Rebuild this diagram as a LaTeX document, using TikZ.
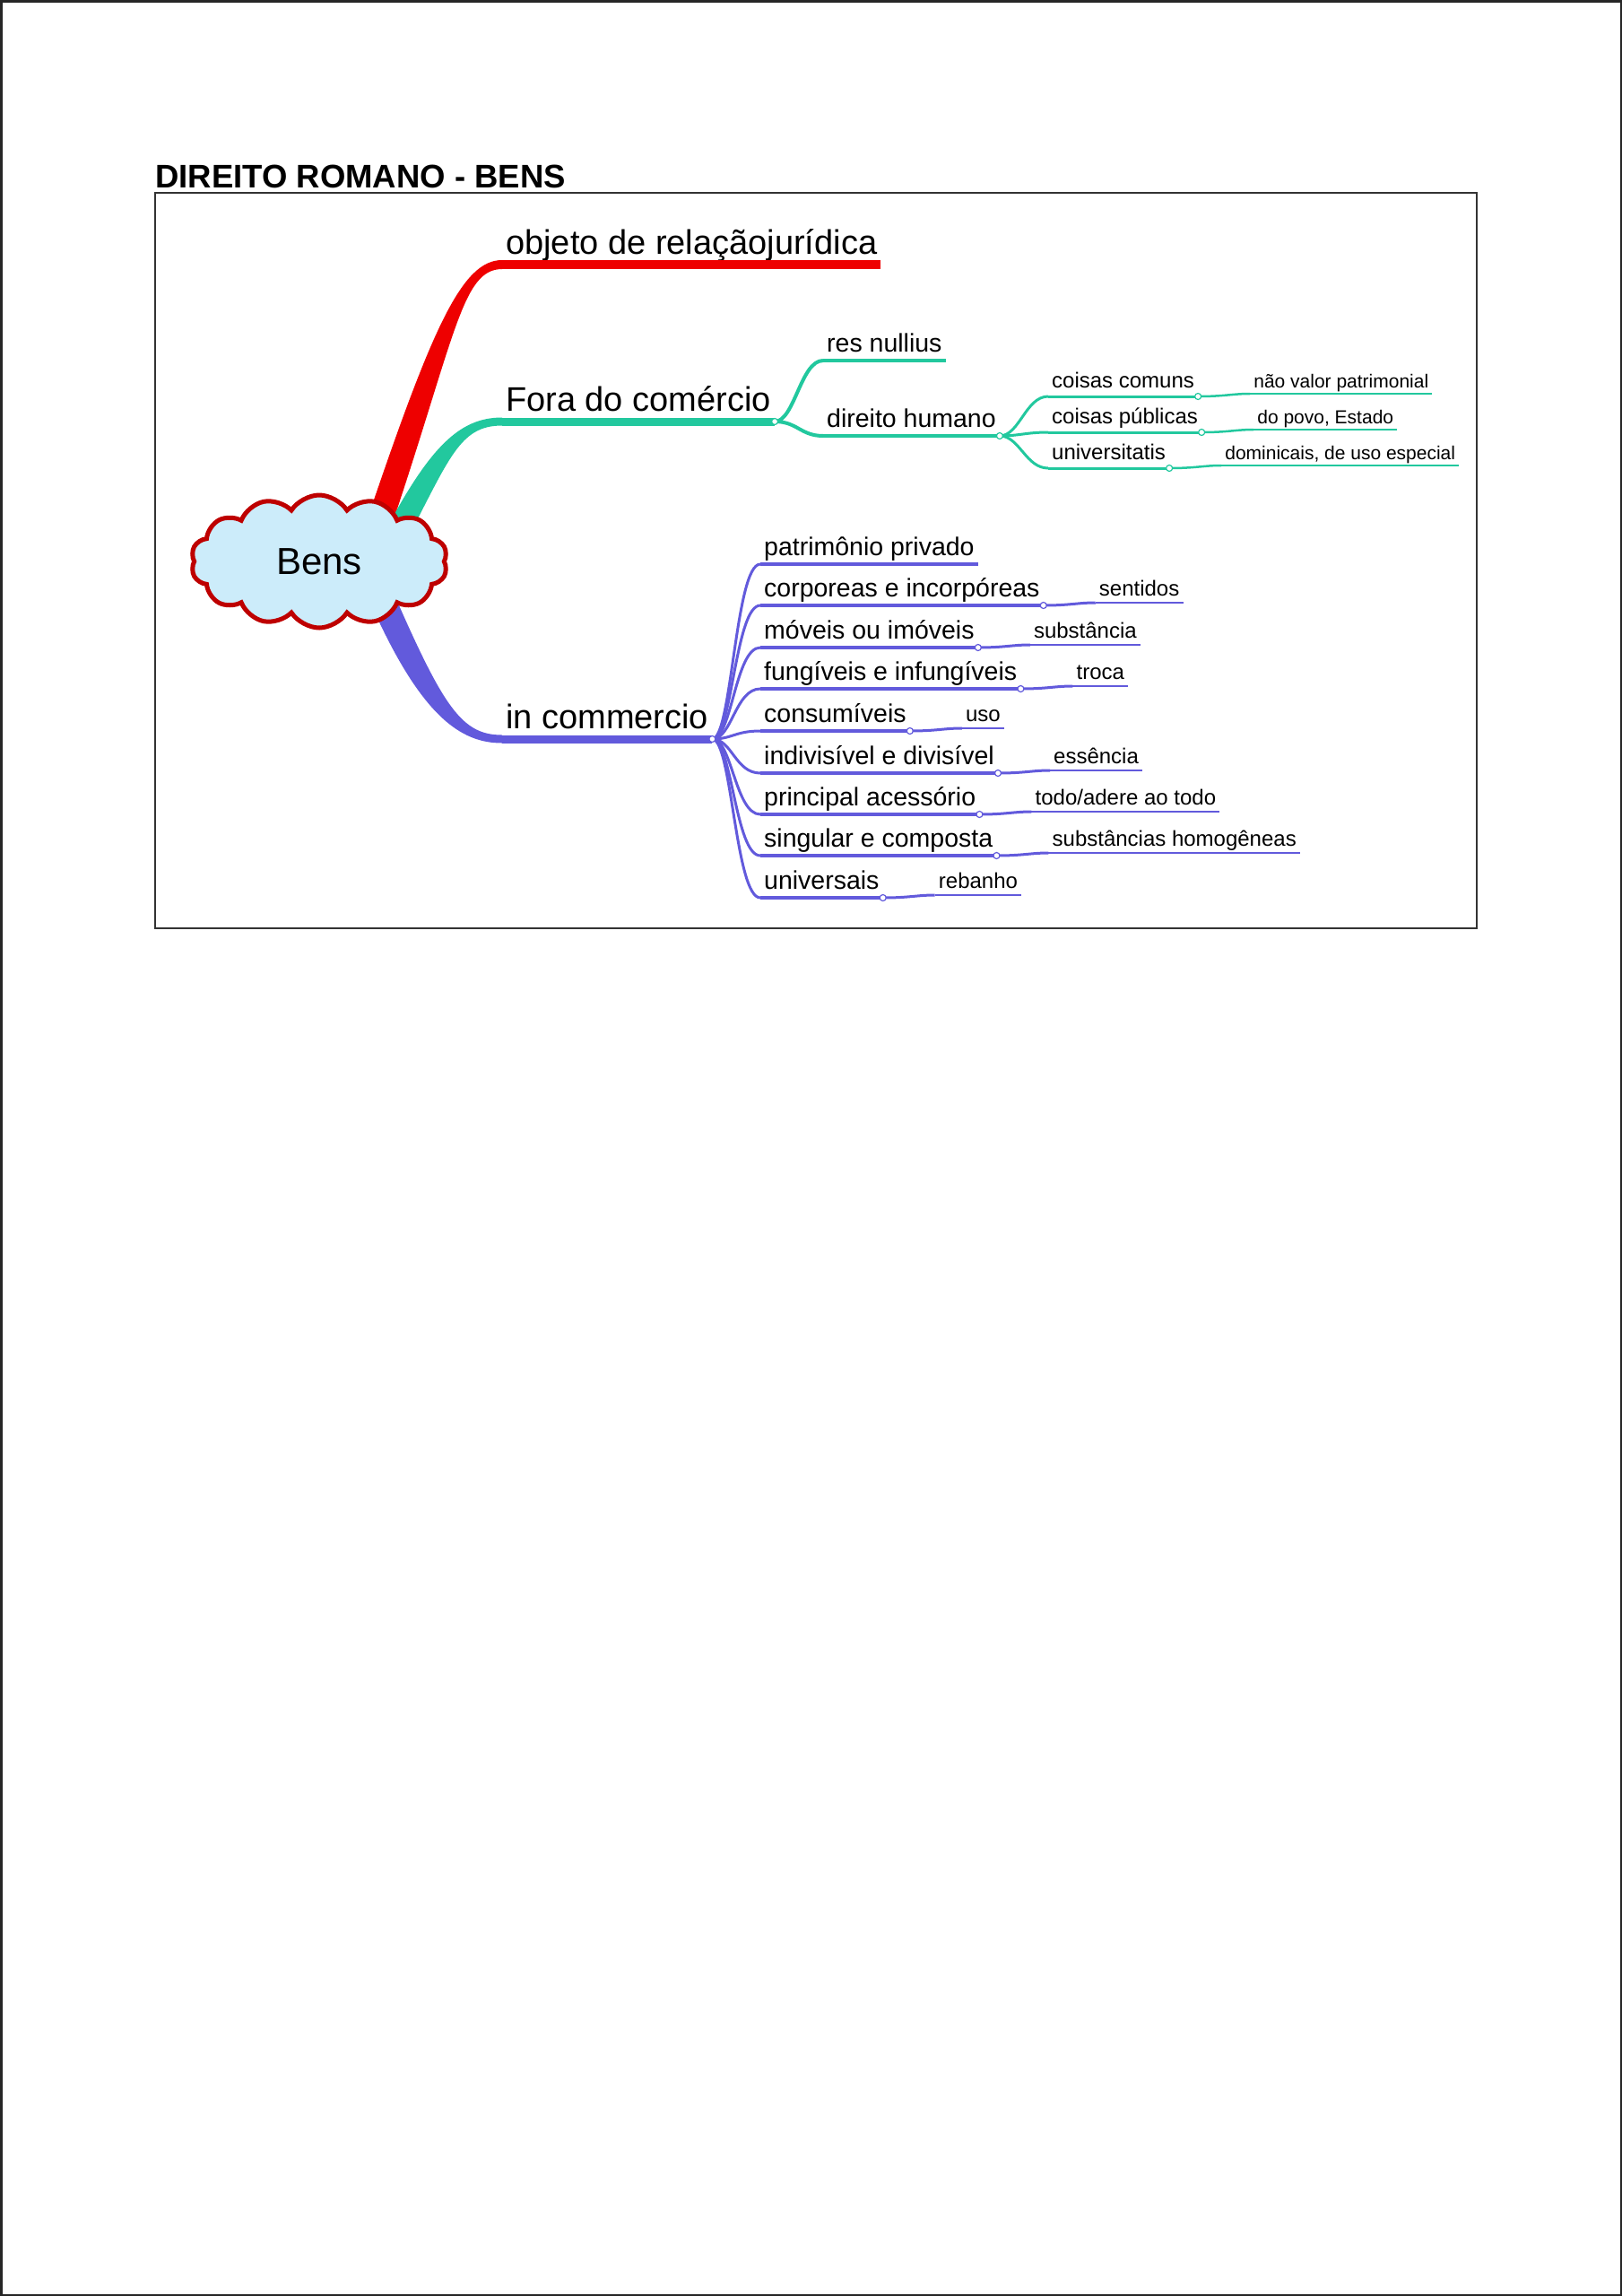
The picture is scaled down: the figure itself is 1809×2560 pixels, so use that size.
\documentclass[tikz,border=0pt]{standalone}
\usepackage{fontspec}
\setmainfont{Liberation Sans}
\usepackage{tikz}
\usetikzlibrary{calc,positioning,shapes.symbols}

\definecolor{mapred}{RGB}{238,0,0}
\definecolor{mapteal}{RGB}{34,200,158}
\definecolor{mapblue}{RGB}{98,90,220}
\definecolor{cloudred}{RGB}{190,0,0}
\definecolor{cloudfill}{RGB}{204,236,250}

% tapered main branch: colour, start, control 1, control 2, end, half width at start, half width at end
\newcommand\limb[7]{%
  \path ($(#2)!#6!90:(#3)$) coordinate (limbLa) ($(#2)!#6!-90:(#3)$) coordinate (limbRa)
        ($(#5)!#7!-90:(#4)$) coordinate (limbLb) ($(#5)!#7!90:(#4)$) coordinate (limbRb);
  \fill[#1] (limbLa) .. controls ($(#3)+(limbLa)-(#2)$) and ($(#4)+(limbLb)-(#5)$) .. (limbLb)
    -- (limbRb) .. controls ($(#4)+(limbRb)-(#5)$) and ($(#3)+(limbRa)-(#2)$) .. (limbRa) -- cycle;}

\begin{document}
\begin{tikzpicture}[
  x=1pt,y=-1pt,
  lvlone/.style={anchor=south west,inner xsep=4pt,inner ysep=11pt,text depth=0pt,
    font=\fontsize{38pt}{40pt}\selectfont},
  lvltwo/.style={anchor=south west,inner xsep=4pt,inner ysep=9.5pt,text depth=0pt,
    font=\fontsize{28.5pt}{30pt}\selectfont},
  lvlthree/.style={anchor=south west,inner xsep=4pt,inner ysep=9pt,text depth=0pt,
    font=\fontsize{24pt}{26pt}\selectfont},
  detail/.style={anchor=south west,inner xsep=4pt,inner ysep=7pt,text depth=0pt,
    font=\fontsize{24pt}{26pt}\selectfont},
  smalldetail/.style={anchor=south west,inner xsep=4pt,inner ysep=6pt,text depth=0pt,
    font=\fontsize{21pt}{23pt}\selectfont},
  dot/.style={circle,draw=#1,fill=white,line width=1.2pt,inner sep=0pt,minimum size=7pt},
  fan/.style={draw=#1,line width=3pt},
  under/.style={draw=#1,line width=4.5pt},
  thin/.style={draw=#1,line width=1.8pt}
]
\useasboundingbox (0,0) rectangle (1809,2560);
\draw[line width=2.5pt,black!85] (1.25,1.25) rectangle (1807.75,2558.75);
\node[anchor=base west,inner sep=0pt,font=\bfseries\fontsize{36.5pt}{40pt}\selectfont] (title) at (173,209) {DIREITO ROMANO - BENS};
\draw[line width=2pt,black!80] (173,215) rectangle (1647,1035);

\node[lvlone] (objeto) at (560,295) {objeto de relaçãojurídica};
\node[lvlone] (fora) at (560,470) {Fora do comércio};
\node[lvlone] (commercio) at (560,824) {in commercio};
\limb{mapred}{420,592}{495,370}{515,295}{objeto.south west}{14pt}{5pt}
\limb{mapteal}{438,604}{490,505}{512,470}{fora.south west}{13pt}{4.5pt}
\limb{mapblue}{424,662}{482,795}{515,824}{commercio.south west}{14pt}{4.5pt}
\draw[mapred,line width=10pt] (objeto.south west) -- (objeto.south east);
\draw[mapteal,line width=9pt] (fora.south west) -- (fora.south east);
\draw[mapblue,line width=9pt] (commercio.south west) -- (commercio.south east);

\node[cloud,cloud puffs=14,cloud puff arc=115,aspect=1.95,draw=cloudred,fill=cloudfill,line width=5pt,
  minimum width=286pt,minimum height=148pt,font=\fontsize{42pt}{44pt}\selectfont] (bens) at (356,626) {Bens};

\node[lvltwo] (resnullius) at (918,402) {res nullius};
\node[lvltwo] (humano) at (918,486) {direito humano};
\draw[fan=mapteal,line width=4pt] (fora.south east) .. controls +(22,0) and +(-25,0) .. (resnullius.south west);
\draw[fan=mapteal,line width=4pt] (fora.south east) .. controls +(25,0) and +(-25,0) .. (humano.south west);
\draw[under=mapteal] (resnullius.south west) -- (resnullius.south east);
\draw[under=mapteal] (humano.south west) -- (humano.south east);

\node[lvlthree] (comuns) at (1169,442) {coisas comuns};
\node[lvlthree] (publicas) at (1169,482) {coisas públicas};
\node[lvlthree] (universitatis) at (1169,522) {universitatis};
\node[smalldetail] (naovalor) at ($(comuns.south east)+(58,-3)$) {não valor patrimonial};
\node[smalldetail] (povo) at ($(publicas.south east)+(58,-3)$) {do povo, Estado};
\node[smalldetail] (dominicais) at ($(universitatis.south east)+(58,-3)$) {dominicais, de uso especial};
\foreach \n/\d in {comuns/naovalor,publicas/povo,universitatis/dominicais}{
  \draw[fan=mapteal] (humano.south east) .. controls +(22,0) and +(-25,0) .. (\n.south west);
  \draw[fan=mapteal] (\n.south west) -- (\n.south east);
  \draw[fan=mapteal,line width=2.5pt] (\n.south east) .. controls +(30,0) and +(-20,0) .. (\d.south west);
  \draw[thin=mapteal] (\d.south west) -- (\d.south east);
}

\node[lvltwo] (patrimonio) at (848,629) {patrimônio privado};
\node[lvltwo] (corporeas) at (848,675) {corporeas e incorpóreas};
\node[lvltwo] (moveis) at (848,722) {móveis ou imóveis};
\node[lvltwo] (fungiveis) at (848,768) {fungíveis e infungíveis};
\node[lvltwo] (consumiveis) at (848,815) {consumíveis};
\node[lvltwo] (indivisivel) at (848,862) {indivisível e divisível};
\node[lvltwo] (principal) at (848,908) {principal acessório};
\node[lvltwo] (singular) at (848,954) {singular e composta};
\node[lvltwo] (universais) at (848,1001) {universais};
\node[detail] (sentidos) at ($(corporeas.south east)+(58,-3)$) {sentidos};
\node[detail] (substancia) at ($(moveis.south east)+(58,-3)$) {substância};
\node[detail] (troca) at ($(fungiveis.south east)+(58,-3)$) {troca};
\node[detail] (uso) at ($(consumiveis.south east)+(58,-3)$) {uso};
\node[detail] (essencia) at ($(indivisivel.south east)+(58,-3)$) {essência};
\node[detail] (todo) at ($(principal.south east)+(58,-3)$) {todo/adere ao todo};
\node[detail] (homogeneas) at ($(singular.south east)+(58,-3)$) {substâncias homogêneas};
\node[detail] (rebanho) at ($(universais.south east)+(58,-3)$) {rebanho};
\foreach \n in {patrimonio,corporeas,moveis,fungiveis,consumiveis,indivisivel,principal,singular,universais}{
  \draw[fan=mapblue] (commercio.south east) .. controls +(22,0) and +(-28,0) .. (\n.south west);
  \draw[under=mapblue] (\n.south west) -- (\n.south east);
}
\foreach \n/\d in {corporeas/sentidos,moveis/substancia,fungiveis/troca,consumiveis/uso,
    indivisivel/essencia,principal/todo,singular/homogeneas,universais/rebanho}{
  \draw[fan=mapblue] (\n.south east) .. controls +(30,0) and +(-20,0) .. (\d.south west);
  \draw[thin=mapblue] (\d.south west) -- (\d.south east);
  \node[dot=mapblue] (\n-dot) at (\n.south east) {};
}

\node[dot=mapteal] (fora-dot) at (fora.south east) {};
\node[dot=mapteal] (humano-dot) at (humano.south east) {};
\foreach \n in {comuns,publicas,universitatis}
  \node[dot=mapteal] (\n-dot) at (\n.south east) {};
\node[dot=mapblue] (commercio-dot) at (commercio.south east) {};
\end{tikzpicture}
\end{document}
